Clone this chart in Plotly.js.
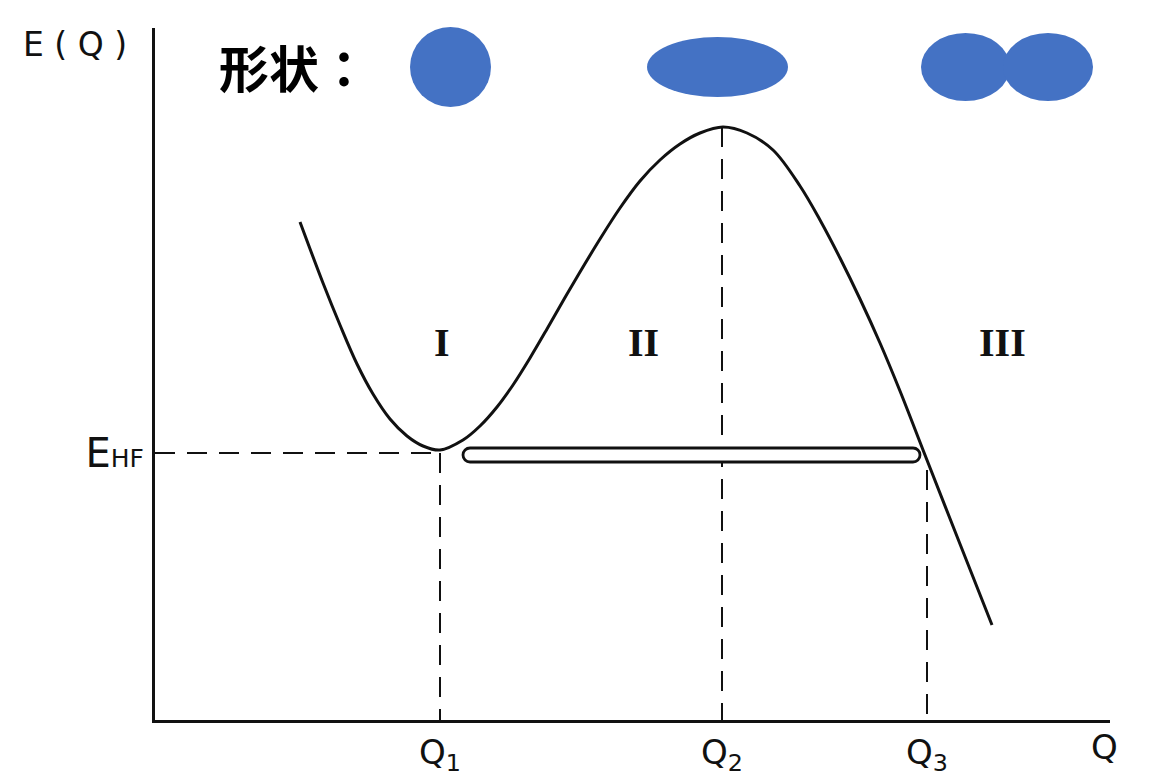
<!DOCTYPE html>
<html>
<head>
<meta charset="utf-8">
<script src="https://cdn.plot.ly/plotly-3.0.1.min.js"></script>
<style>html,body{margin:0;padding:0;background:#fff;}#chart{width:1150px;height:780px;}</style>
</head>
<body>
<div id="chart"></div>
<script>
// ---- data (deformation Q, energy E) ----
const curveQ = [1.45,1.68,1.85,2.02,2.18,2.35,2.52,2.68,2.85,3.08,3.25,3.42,3.58,3.75,3.92,4.08,4.25,4.45,4.65,4.85,5.05,5.25,5.45,5.68,5.92,6.18,6.45,6.65,6.85,7.05,7.25,7.45,7.70,8.05,8.37];
const curveE = [4.98,4.37,3.95,3.56,3.26,3.01,2.84,2.74,2.70,2.80,2.94,3.13,3.35,3.62,3.91,4.19,4.48,4.81,5.12,5.39,5.60,5.76,5.87,5.93,5.87,5.70,5.34,5.00,4.62,4.21,3.77,3.29,2.65,1.76,0.95];
const qMarks = [2.85, 5.67, 7.72];           // Q1, Q2, Q3
const qLabels = ['Q<sub>1</sub>', 'Q<sub>2</sub>', 'Q<sub>3</sub>'];
const qMarkTop = [2.67, 5.93, 2.50];          // top of each vertical dashed line
const eHF = 2.67;
const eLabel = 'E<span style="font-size:25px">HF</span>';
const barQ = [3.08, 7.65];                    // tunnelling bar extent
const barE = [2.58, 2.72];
const regionLabels = ['I', 'II', 'III'];
const regionQ = [2.87, 4.88, 8.47];
const regionE = [3.78, 3.78, 3.78];

// ---- traces ----
const ink = '#111111';
const dash = '20px,12px';
const traces = [];
traces.push({x: curveQ, y: curveE, type: 'scatter', mode: 'lines',
  line: {color: ink, width: 3, shape: 'spline', smoothing: 1.0}, hoverinfo: 'skip', cliponaxis: false});
traces.push({x: [0, qMarks[0]], y: [eHF, eHF], type: 'scatter', mode: 'lines',
  line: {color: ink, width: 2, dash: dash}, hoverinfo: 'skip'});
qMarks.forEach((q, i) => {
  traces.push({x: [q, q], y: [qMarkTop[i], 0], type: 'scatter', mode: 'lines',
    line: {color: ink, width: 2, dash: dash}, hoverinfo: 'skip'});
});

// bar outline (stadium shape) built from barQ/barE
const r = (barE[1] - barE[0]) / 2, k = 0.55 * r, ym = (barE[0] + barE[1]) / 2;
const xL = barQ[0] + r, xR = barQ[1] - r;
const barPath = `M ${xL} ${barE[1]} L ${xR} ${barE[1]} ` +
  `C ${xR + k} ${barE[1]} ${barQ[1]} ${ym + k} ${barQ[1]} ${ym} ` +
  `C ${barQ[1]} ${ym - k} ${xR + k} ${barE[0]} ${xR} ${barE[0]} ` +
  `L ${xL} ${barE[0]} ` +
  `C ${xL - k} ${barE[0]} ${barQ[0]} ${ym - k} ${barQ[0]} ${ym} ` +
  `C ${barQ[0]} ${ym + k} ${xL - k} ${barE[1]} ${xL} ${barE[1]} Z`;

// ---- layout helpers for decorations (pixel -> paper) ----
const M = {l: 155, r: 40, t: 28, b: 60}, W = 1150, H = 780;
const px = v => (v - M.l) / (W - M.l - M.r);
const py = v => (H - M.b - v) / (H - M.t - M.b);
const blue = '#4472C4';
function ell(cx, cy, rx, ry) {
  return {type: 'circle', xref: 'paper', yref: 'paper', x0: px(cx - rx), x1: px(cx + rx),
    y0: py(cy + ry), y1: py(cy - ry), fillcolor: blue, line: {width: 0}, layer: 'above'};
}

const shapes = [
  {type: 'path', path: barPath, xref: 'x', yref: 'y', line: {color: ink, width: 2.8}, fillcolor: '#ffffff', layer: 'above'},
  ell(450.5, 67, 40.5, 40),
  ell(717.5, 67, 70.5, 30),
  ell(965.5, 67, 44.5, 34),
  ell(1048, 67, 45, 34)
];

const annotations = [];
regionLabels.forEach((t, i) => annotations.push({x: regionQ[i], y: regionE[i], xref: 'x', yref: 'y', text: '<b>' + t + '</b>',
  showarrow: false, font: {family: 'Liberation Serif', size: 40, color: ink}}));
annotations.push({x: px(75), y: py(45), xref: 'paper', yref: 'paper', text: 'E ( Q )', showarrow: false,
  xanchor: 'center', yanchor: 'middle', font: {family: 'DejaVu Sans', size: 33, color: ink}});
annotations.push({x: px(1104), y: py(747), xref: 'paper', yref: 'paper', text: 'Q', showarrow: false,
  xanchor: 'center', yanchor: 'middle', font: {family: 'DejaVu Sans', size: 34, color: ink}});
annotations.push({x: px(294), y: py(66), xref: 'paper', yref: 'paper', text: '<b>形状：</b>', showarrow: false,
  xanchor: 'center', yanchor: 'middle', font: {family: 'Noto Sans CJK JP', size: 50, color: '#000'}});

const layout = {
  width: W, height: H, margin: M, autosize: false,
  paper_bgcolor: '#fff', plot_bgcolor: '#fff', showlegend: false,
  xaxis: {range: [0, 9.55], showgrid: false, zeroline: false, showline: true, linecolor: ink, linewidth: 3,
    tickmode: 'array', tickvals: qMarks, ticktext: qLabels, ticks: '',
    tickfont: {family: 'DejaVu Sans', size: 34, color: ink}, fixedrange: true},
  yaxis: {range: [0, 6.92], showgrid: false, zeroline: false, showline: true, linecolor: ink, linewidth: 3,
    tickmode: 'array', tickvals: [eHF], ticktext: [eLabel], ticks: '',
    tickfont: {family: 'DejaVu Sans', size: 40, color: ink}, fixedrange: true},
  shapes: shapes, annotations: annotations
};

Plotly.newPlot('chart', traces, layout, {staticPlot: true, displayModeBar: false});
</script>
</body>
</html>
